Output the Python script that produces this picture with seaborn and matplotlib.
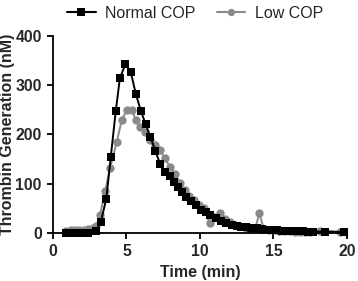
import pandas as pd
import seaborn as sns
import matplotlib.pyplot as plt

# thrombin generation curves
normal_time = [0.9, 1.2, 1.5, 1.8, 2.1, 2.4, 2.93, 3.26, 3.63, 3.93, 4.27, 4.55,
               4.93, 5.3, 5.64, 5.98, 6.3, 6.63, 6.96, 7.28, 7.6, 7.95, 8.22,
               8.5, 8.77, 9.05, 9.36, 9.7, 10.05, 10.4, 10.7, 11.07, 11.4, 11.76,
               12.2, 12.5, 12.8, 13.15, 13.5, 13.85, 14.2, 14.55, 14.9, 15.25,
               15.6, 15.95, 16.3, 16.65, 17.0, 17.35, 17.7, 18.5, 19.8]
normal_thrombin = [0, 0, 0, 0, 0, 0, 4, 23, 70, 154, 247, 314,
                   343, 326, 282, 248, 221, 195, 167, 141, 124, 116, 104,
                   94, 84, 74, 65, 57, 47, 43, 37, 30, 24, 21,
                   16, 14, 12, 12, 11, 10, 8, 7, 6, 6,
                   5, 5, 4, 4, 4, 3, 3, 3, 2]

low_time = [0.9, 1.2, 1.5, 1.8, 2.1, 2.4, 2.7, 2.95, 3.2, 3.55, 3.88, 4.34,
            4.68, 5.02, 5.37, 5.64, 5.93, 6.28, 6.62, 6.96, 7.3, 7.6, 7.95,
            8.3, 8.67, 8.95, 9.25, 9.6, 9.95, 10.3, 10.66, 11.0, 11.37, 11.7,
            12.05, 12.4, 12.75, 13.1, 13.45, 13.75, 14.04, 14.35, 14.7, 15.05,
            15.4, 15.75, 16.1, 16.45, 16.8, 17.15, 17.5, 18.15, 19.5]
low_thrombin = [5, 6, 6, 6, 7, 8, 10, 14, 37, 85, 131, 185,
                229, 250, 250, 229, 216, 206, 189, 179, 168, 152, 135,
                120, 101, 88, 75, 66, 56, 50, 20, 33, 41, 28,
                22, 17, 14, 11, 9, 8, 40, 8, 7, 6,
                5, 4, 4, 3, 3, 3, 3, 5, 2]

df = pd.concat([
    pd.DataFrame({'time': normal_time, 'thrombin': normal_thrombin, 'group': 'Normal COP'}),
    pd.DataFrame({'time': low_time, 'thrombin': low_thrombin, 'group': 'Low COP'}),
])

sns.set_style('ticks')
plt.rcParams['font.family'] = ['Liberation Sans', 'DejaVu Sans']

fig = plt.figure(figsize=(3.58, 2.81), dpi=100)
ax = fig.add_axes([0.148, 0.1708, 0.821, 0.7012])

palette = {'Normal COP': 'black', 'Low COP': '#8a8a8a'}
sns.lineplot(data=df, x='time', y='thrombin', hue='group', style='group',
             markers={'Normal COP': 's', 'Low COP': 'o'}, dashes=False,
             palette=palette, hue_order=['Low COP', 'Normal COP'],
             markersize=6, markeredgewidth=0, linewidth=1.4,
             sort=False, estimator=None, ax=ax, legend=False)
for line in ax.lines:
    line.set_clip_on(False)

ax.set_xlim(0, 20)
ax.set_ylim(0, 400)
ax.set_xticks([0, 5, 10, 15, 20])
ax.set_yticks([0, 100, 200, 300, 400])
ax.set_xlabel('Time (min)', fontsize=11.5, fontweight='bold')
ax.set_ylabel('Thrombin Generation (nM)', fontsize=11.5, fontweight='bold')
ax.yaxis.set_label_coords(-0.128, 0.5)
ax.tick_params(axis='both', labelsize=11.3, width=1.3, length=4.5, color='black')
for lab in ax.get_xticklabels() + ax.get_yticklabels():
    lab.set_fontweight('bold')
for s in ['left', 'bottom']:
    ax.spines[s].set_linewidth(1.3)
    ax.spines[s].set_color('black')
sns.despine(ax=ax)

# legend above the axes, no frame
h1, = ax.plot([], [], color='black', marker='s', markersize=6, lw=1.5, markeredgewidth=0)
h2, = ax.plot([], [], color='#8a8a8a', marker='o', markersize=5.2, lw=1.5, markeredgewidth=0)
fig.legend([h1, h2], ['Normal COP', 'Low COP'], loc='upper center',
           bbox_to_anchor=(0.545, 1.03), ncol=2, frameon=False, fontsize=11.5,
           handlelength=1.8, columnspacing=1.3, handletextpad=0.6)

fig.savefig('out.png', dpi=100)
